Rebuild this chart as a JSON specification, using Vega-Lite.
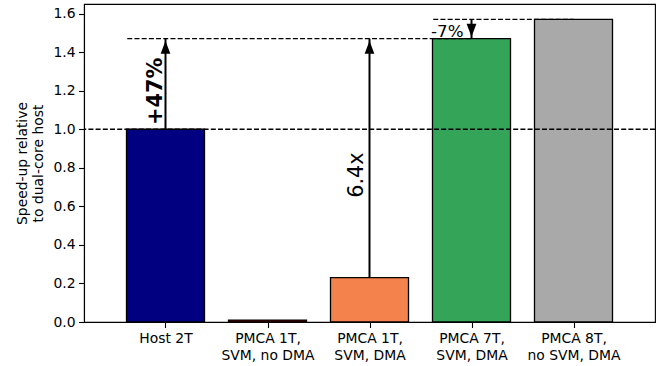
{
  "$schema": "https://vega.github.io/schema/vega-lite/v6.json",
  "width": 571,
  "height": 318,
  "autosize": "none",
  "padding": {"left": 84, "top": 4, "right": 4, "bottom": 44},
  "config": {
    "font": "DejaVu Sans",
    "view": {"stroke": "black", "strokeWidth": 1.1},
    "axis": {
      "grid": false,
      "domainColor": "black",
      "domainWidth": 1.1,
      "tickColor": "black",
      "tickWidth": 1.1,
      "tickSize": 5.5,
      "labelColor": "black",
      "labelFont": "DejaVu Sans",
      "labelFontSize": 13.9,
      "labelOverlap": false,
      "labelSeparation": -100,
      "titleFont": "DejaVu Sans",
      "titleFontSize": 13.9,
      "titleFontWeight": "normal",
      "titleColor": "black"
    }
  },
  "datasets": {
    "bars": [
      {"label": "Host 2T", "idx": 0, "speedup": 1.0},
      {"label": "PMCA 1T, SVM, no DMA", "idx": 1, "speedup": 0.01},
      {"label": "PMCA 1T, SVM, DMA", "idx": 2, "speedup": 0.23},
      {"label": "PMCA 7T, SVM, DMA", "idx": 3, "speedup": 1.47},
      {"label": "PMCA 8T, no SVM, DMA", "idx": 4, "speedup": 1.57}
    ],
    "lines": [
      {"y": 1.47, "start": -0.375, "end": 3},
      {"y": 1.57, "start": 2.625, "end": 4}
    ],
    "baseline": [{"y": 1.0}],
    "arrows": [
      {"x": 0, "from": 1.0, "to": 1.47, "dir": "up"},
      {"x": 2, "from": 0.23, "to": 1.47, "dir": "up"},
      {"x": 3, "from": 1.57, "to": 1.47, "dir": "down"}
    ],
    "notes": [
      {"name": "gain", "x": 0, "y": 1.197, "text": "+47%"},
      {"name": "factor", "x": 2, "y": 0.762, "text": "6.4x"},
      {"name": "loss", "x": 3, "y": 1.47, "text": "-7%"}
    ]
  },
  "layer": [
    {
      "data": {"name": "bars"},
      "mark": {"type": "bar", "width": 78, "stroke": "black", "strokeWidth": 1.3},
      "encoding": {
        "x": {
          "field": "idx",
          "type": "quantitative",
          "scale": {"domain": [-0.75, 4.75], "nice": false, "zero": false},
          "axis": {
            "title": null,
            "values": [0, 1, 2, 3, 4],
            "labelPadding": 4,
            "labelLineHeight": 16.7,
            "labelFontSize": 13.9,
            "labelColor": "black",
            "labelOverlap": false,
            "labelSeparation": -100,
            "labelExpr": "datum.value == 0 ? 'Host 2T' : datum.value == 1 ? ['PMCA 1T,', 'SVM, no DMA'] : datum.value == 2 ? ['PMCA 1T,', 'SVM, DMA'] : datum.value == 3 ? ['PMCA 7T,', 'SVM, DMA'] : ['PMCA 8T,', 'no SVM, DMA']"
          }
        },
        "y": {
          "field": "speedup",
          "type": "quantitative",
          "scale": {"domain": [0, 1.65], "nice": false},
          "axis": {
            "title": ["Speed-up relative", "to dual-core host"],
            "values": [0, 0.2, 0.4, 0.6, 0.8, 1.0, 1.2, 1.4, 1.6],
            "tickCount": 9,
            "format": ".1f",
            "labelPadding": 3.5,
            "labelFontSize": 13.9,
            "labelColor": "black",
            "labelOverlap": false,
            "labelSeparation": -100,
            "titleFontSize": 13.9,
            "titleFontWeight": "normal",
            "titleLineHeight": 16.6,
            "titleAngle": 270,
            "titleAlign": "center",
            "titleAnchor": "middle",
            "titleBaseline": "alphabetic",
            "titleX": -58,
            "titleY": 159
          }
        },
        "color": {
          "field": "label",
          "type": "nominal",
          "scale": {
            "domain": ["Host 2T", "PMCA 1T, SVM, no DMA", "PMCA 1T, SVM, DMA", "PMCA 7T, SVM, DMA", "PMCA 8T, no SVM, DMA"],
            "range": ["#000080", "#8b0000", "#f4824c", "#34a558", "#a9a9a9"]
          },
          "legend": null
        }
      }
    },
    {
      "data": {"name": "baseline"},
      "mark": {"type": "rule", "color": "black", "strokeWidth": 1.3, "strokeDash": [5, 2.2]},
      "encoding": {"y": {"field": "y", "type": "quantitative"}}
    },
    {
      "data": {"name": "lines"},
      "mark": {"type": "rule", "color": "black", "strokeWidth": 1.3, "strokeDash": [5, 2.2]},
      "encoding": {
        "x": {"field": "start", "type": "quantitative"},
        "x2": {"field": "end"},
        "y": {"field": "y", "type": "quantitative"}
      }
    },
    {
      "data": {"name": "arrows"},
      "mark": {"type": "rule", "color": "black", "strokeWidth": 2},
      "encoding": {
        "x": {"field": "x", "type": "quantitative"},
        "y": {"field": "from", "type": "quantitative"},
        "y2": {"field": "to"}
      }
    },
    {
      "data": {"name": "arrows"},
      "mark": {"type": "point", "filled": true, "color": "black", "opacity": 1, "size": 169, "strokeWidth": 0},
      "encoding": {
        "x": {"field": "x", "type": "quantitative"},
        "y": {"field": "to", "type": "quantitative"},
        "shape": {
          "field": "dir",
          "type": "nominal",
          "scale": {
            "domain": ["up", "down"],
            "range": ["M0,0.3L0.75,2.3L-0.75,2.3Z", "M0,-0.3L0.75,-2.3L-0.75,-2.3Z"]
          },
          "legend": null
        }
      }
    },
    {
      "data": {"name": "notes"},
      "transform": [{"filter": "datum.name == 'gain'"}],
      "mark": {"type": "text", "angle": 270, "align": "center", "baseline": "alphabetic", "dy": -3.5, "fontSize": 20.8, "fontWeight": "bold", "color": "black"},
      "encoding": {
        "x": {"field": "x", "type": "quantitative"},
        "y": {"field": "y", "type": "quantitative"},
        "text": {"field": "text"}
      }
    },
    {
      "data": {"name": "notes"},
      "transform": [{"filter": "datum.name == 'factor'"}],
      "mark": {"type": "text", "angle": 270, "align": "center", "baseline": "alphabetic", "dy": -7, "fontSize": 20.8, "color": "black"},
      "encoding": {
        "x": {"field": "x", "type": "quantitative"},
        "y": {"field": "y", "type": "quantitative"},
        "text": {"field": "text"}
      }
    },
    {
      "data": {"name": "notes"},
      "transform": [{"filter": "datum.name == 'loss'"}],
      "mark": {"type": "text", "align": "right", "baseline": "alphabetic", "dx": -8, "dy": -2, "fontSize": 16.7, "color": "black"},
      "encoding": {
        "x": {"field": "x", "type": "quantitative"},
        "y": {"field": "y", "type": "quantitative"},
        "text": {"field": "text"}
      }
    }
  ]
}
